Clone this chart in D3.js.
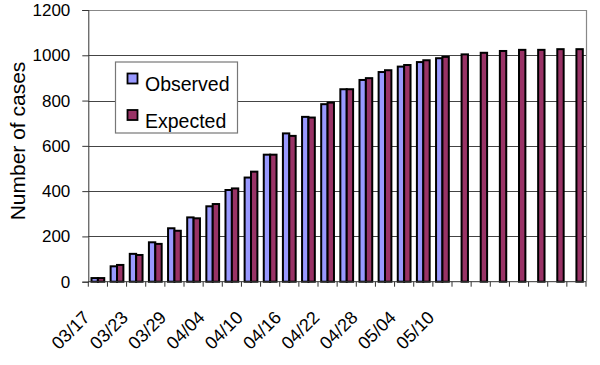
<!DOCTYPE html>
<html>
<head>
<meta charset="utf-8">
<script src="https://cdn.jsdelivr.net/npm/d3@7"></script>
<style>
  body { margin: 0; background: #fff; }
  svg { display: block; font-family: "Liberation Sans", Arial, sans-serif; }
</style>
</head>
<body>
<div class="chart"></div>
<script>
// categories every 3 days; only every other one gets a label
const categories = ["03/17", "03/20", "03/23", "03/26", "03/29", "04/01", "04/04", "04/07", "04/10",
    "04/13", "04/16", "04/19", "04/22", "04/25", "04/28", "05/01", "05/04", "05/07", "05/10",
    "05/13", "05/16", "05/19", "05/22", "05/25", "05/28", "05/31"];
const tickLabels = ["03/17", "03/23", "03/29", "04/04", "04/10", "04/16", "04/22", "04/28", "05/04", "05/10"];
const observed = [16, 68, 123, 174, 236, 284, 333, 405, 460, 561, 655, 728, 784, 850, 891, 926, 950, 970, 987];
const expected = [16, 74, 118, 167, 225, 280, 343, 412, 486, 561, 644, 725, 791, 850, 899, 934, 957, 978, 993,
    1004, 1011, 1019, 1024, 1024, 1027, 1027];
const yTicks = [0, 200, 400, 600, 800, 1000, 1200];
const seriesNames = ["Observed", "Expected"];
const colors = { Observed: "#9999ff", Expected: "#993366" };

const width = 600, height = 365,
    margin = ({ top: 10, right: 14, bottom: 83.3, left: 88.3 });

const svg = d3.select(".chart").append("svg")
    .attr("width", width)
    .attr("height", height);

const x = d3.scaleBand()
    .domain(categories)
    .range([margin.left, width - margin.right]);

const xInner = d3.scaleBand()
    .domain(seriesNames)
    .range([0, x.bandwidth()])
    .paddingOuter(0.5);

const y = d3.scaleLinear()
    .domain([0, 1200])
    .range([height - margin.bottom, margin.top]);

// gridlines
svg.append("g")
    .selectAll("line")
    .data(yTicks.filter(d => d > 0 && d < 1200))
    .join("line")
    .attr("x1", margin.left)
    .attr("x2", width - margin.right)
    .attr("y1", d => Math.round(y(d)) + 0.5)
    .attr("y2", d => Math.round(y(d)) + 0.5)
    .attr("stroke", "#444")
    .attr("stroke-width", 1);

// plot frame (top and right)
svg.append("path")
    .attr("d", `M${margin.left},${y(1200) + 0.5}H${width - margin.right + 0.5}V${y(0)}`)
    .attr("fill", "none")
    .attr("stroke", "#888")
    .attr("stroke-width", 1.2);

// y axis
const yAxis = g => g
    .attr("transform", `translate(${margin.left},0)`)
    .call(d3.axisLeft(y).tickValues(yTicks).tickFormat(d3.format("d")).tickSize(6).tickPadding(12))
    .call(g => g.selectAll(".tick text")
        .attr("font-size", 17)
        .attr("fill", "#000"))
    .call(g => g.selectAll(".tick line").attr("stroke", "#333"))
    .call(g => g.select(".domain").attr("stroke", "#333"));
svg.append("g").call(yAxis);

// bars
const rows = categories.map((c, i) => ({
    cat: c,
    values: [
        { key: "Observed", value: observed[i] },
        { key: "Expected", value: expected[i] }
    ].filter(v => v.value !== undefined)
}));

svg.append("g")
    .selectAll("g")
    .data(rows)
    .join("g")
    .attr("transform", d => `translate(${x(d.cat)},0)`)
    .selectAll("rect")
    .data(d => d.values)
    .join("rect")
    .attr("x", d => xInner(d.key))
    .attr("y", d => y(d.value))
    .attr("width", xInner.bandwidth())
    .attr("height", d => y(0) - y(d.value))
    .attr("fill", d => colors[d.key])
    .attr("stroke", "#000")
    .attr("stroke-width", 2);

// x axis line and category boundary ticks
svg.append("line")
    .attr("x1", margin.left)
    .attr("x2", width - margin.right)
    .attr("y1", y(0))
    .attr("y2", y(0))
    .attr("stroke", "#333");

svg.append("g")
    .selectAll("line")
    .data(categories.concat(["end"]))
    .join("line")
    .attr("x1", (d, i) => x.range()[0] + i * x.step())
    .attr("x2", (d, i) => x.range()[0] + i * x.step())
    .attr("y1", y(0))
    .attr("y2", y(0) + 5)
    .attr("stroke", "#333");

// rotated date labels
svg.append("g")
    .selectAll("text")
    .data(tickLabels)
    .join("text")
    .attr("transform", d => `translate(${x(d) + x.bandwidth() / 2 - 7},${y(0) + 37}) rotate(-45)`)
    .attr("text-anchor", "end")
    .attr("font-size", 18)
    .text(d => d);

// y axis title
svg.append("text")
    .attr("transform", `translate(25,141) rotate(-90)`)
    .attr("text-anchor", "middle")
    .attr("font-size", 21)
    .text("Number of cases");

// legend
const legend = svg.append("g");
legend.append("rect")
    .attr("x", 115.5)
    .attr("y", 62)
    .attr("width", 122)
    .attr("height", 71)
    .attr("fill", "#fff")
    .attr("stroke", "#777")
    .attr("stroke-width", 1.2);

const items = legend.selectAll("g")
    .data(seriesNames)
    .join("g")
    .attr("transform", (d, i) => `translate(127,${73 + i * 36.5})`);

items.append("rect")
    .attr("x", 0.5)
    .attr("y", 0.5)
    .attr("width", 10)
    .attr("height", 10)
    .attr("fill", d => colors[d])
    .attr("stroke", "#000")
    .attr("stroke-width", 1.8);

items.append("text")
    .attr("x", 18)
    .attr("y", 18)
    .attr("font-size", 19.5)
    .text(d => d);
</script>
</body>
</html>
